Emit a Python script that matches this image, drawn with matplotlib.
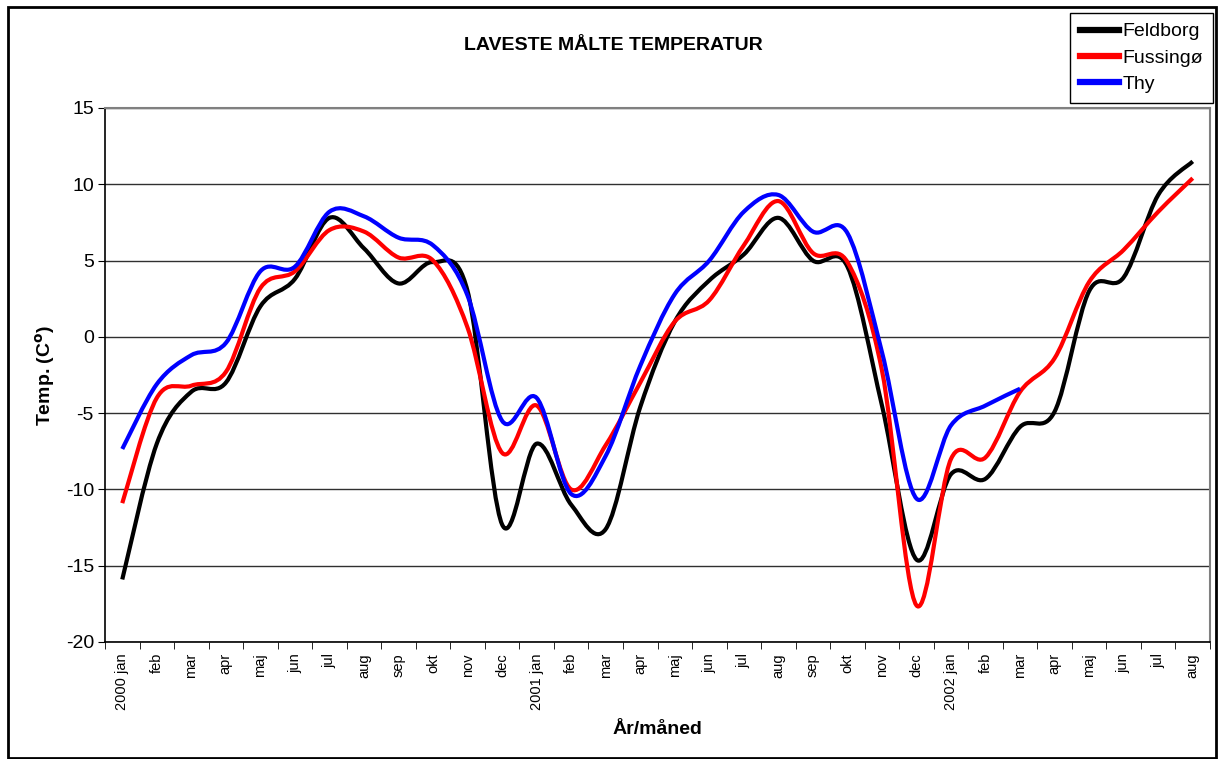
import numpy as np
import matplotlib
matplotlib.use("Agg")
import matplotlib.pyplot as plt
from matplotlib.path import Path
from matplotlib.patches import PathPatch, Rectangle
from matplotlib.lines import Line2D

plt.rcParams["font.family"] = ["Liberation Sans", "DejaVu Sans"]
plt.rcParams["axes.unicode_minus"] = False

# -------------------------
# Data (lowest measured temperature per month)
# -------------------------
months = ["jan", "feb", "mar", "apr", "maj", "jun", "jul", "aug", "sep", "okt", "nov", "dec"]
labels = (["2000 jan"] + months[1:] + ["2001 jan"] + months[1:]
          + ["2002 jan"] + months[1:8])

feldborg = [-15.9, -7.0, -3.6, -3.0, 2.0, 3.8, 7.8, 5.8, 3.5, 4.9, 3.0, -12.3,
            -7.0, -11.0, -12.6, -4.6, 1.0, 3.7, 5.4, 7.8, 5.0, 4.6, -4.5, -14.6,
            -9.0, -9.3, -5.9, -4.9, 3.0, 3.9, 9.3, 11.5]
fussingoe = [-10.9, -4.0, -3.2, -2.3, 3.2, 4.3, 7.0, 6.9, 5.2, 5.0, 0.6, -7.6,
             -4.5, -10.0, -7.1, -3.0, 1.0, 2.4, 6.0, 8.9, 5.5, 4.9, -2.2, -17.6,
             -8.0, -7.9, -3.6, -1.4, 3.6, 5.7, 8.2, 10.4]
thy = [-7.35, -3.1, -1.2, -0.4, 4.3, 4.6, 8.2, 7.9, 6.5, 6.0, 2.7, -5.5,
       -4.0, -10.3, -7.8, -1.9, 2.8, 5.0, 8.2, 9.3, 6.9, 6.8, -1.0, -10.6,
       -5.8, -4.5, -3.4]

series = [("Feldborg", feldborg, "black"),
          ("Fussingø", fussingoe, "#ff0000"),
          ("Thy", thy, "#0000ff")]


def smooth_path(y):
    # Excel-style smoothed line: cubic Bezier segments through every point
    x = np.arange(len(y), dtype=float)
    y = np.asarray(y, dtype=float)
    pts = np.column_stack([x, y])
    verts = [pts[0]]
    codes = [Path.MOVETO]
    n = len(pts)
    for i in range(n - 1):
        p_prev = pts[max(i - 1, 0)]
        p0 = pts[i]
        p1 = pts[i + 1]
        p_next = pts[min(i + 2, n - 1)]
        c1 = p0 + (p1 - p_prev) / 6.0
        c2 = p1 - (p_next - p0) / 6.0
        verts += [c1, c2, p1]
        codes += [Path.CURVE4] * 3
    return Path(verts, codes)


fig = plt.figure(figsize=(12.2, 7.59), dpi=100)
ax = fig.add_axes([105 / 1220, 117 / 759, 1105 / 1220, 534 / 759])

for name, vals, col in series:
    patch = PathPatch(smooth_path(vals), facecolor="none", edgecolor=col,
                      lw=3.0, capstyle="butt", joinstyle="round", zorder=3)
    ax.add_patch(patch)

ax.set_xlim(-0.5, len(labels) - 0.5)
ax.set_ylim(-20, 15)

# -------------------------
# Axes styling
# -------------------------
ax.set_yticks(range(-20, 16, 5))
ax.yaxis.grid(True, color="#303030", lw=1.0)
ax.set_axisbelow(True)
ax.tick_params(axis="y", labelsize=14, length=5, direction="out", pad=3)

ax.set_xticks(np.arange(len(labels)))
ax.set_xticklabels(labels, rotation=90, fontsize=10.5)
ax.set_xticks(np.arange(len(labels) + 1) - 0.5, minor=True)
ax.tick_params(axis="x", which="major", length=0, pad=8)
ax.tick_params(axis="x", which="minor", length=5, direction="out")

for s in ["top", "right"]:
    ax.spines[s].set_color("#808080")
    ax.spines[s].set_linewidth(1.5)
ax.spines["left"].set_linewidth(1.2)
ax.spines["bottom"].set_linewidth(1.2)

ax.set_xlabel("År/måned", fontsize=14, fontweight="bold", labelpad=8)
ax.set_ylabel(r"Temp. (C$^{\mathbf{o}}$)", fontsize=14, fontweight="bold", labelpad=6)
fig.text(613 / 1220, 1 - 46 / 759, "LAVESTE MÅLTE TEMPERATUR", fontsize=14,
         fontweight="bold", ha="center", va="center")

handles = [Line2D([], [], color=c, lw=4.5) for _, _, c in series]
leg = ax.legend(handles, [n for n, _, _ in series], loc="upper right",
                bbox_to_anchor=(1213 / 1220, 1 - 13 / 759),
                bbox_transform=fig.transFigure, fontsize=14, frameon=True,
                fancybox=False, edgecolor="black", framealpha=1,
                handlelength=2.0, handletextpad=0.2, labelspacing=0.45,
                borderpad=0.5, borderaxespad=0)
leg.get_frame().set_linewidth(1.0)

# outer chart border
fig.patches.append(Rectangle((8 / 1220, 1 / 759), 1208 / 1220, 751 / 759,
                             transform=fig.transFigure, fill=False,
                             edgecolor="black", lw=2))

fig.savefig("out.png", dpi=100)
